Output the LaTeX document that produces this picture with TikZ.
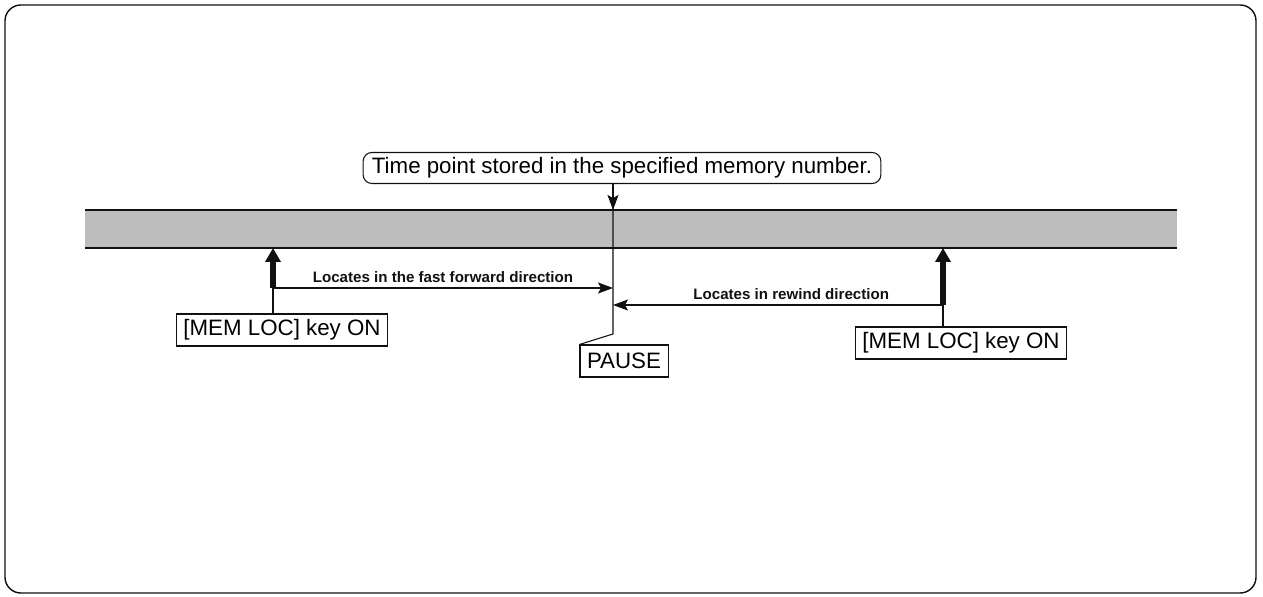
\documentclass[tikz,border=0pt]{standalone}
\usepackage{fontspec}
\setmainfont{Liberation Sans}
\usepackage{tikz}
\usetikzlibrary{calc,arrows.meta,positioning}
\definecolor{inkx}{HTML}{111111}
\definecolor{tapex}{HTML}{BDBDBD}
\tikzset{
  ar/.style={-{Stealth[length=3mm,width=2.2mm,inset=0.6mm]},semithick,inkx},
  big/.style={-{Triangle[length=2.8mm,width=3mm]},line width=3pt,inkx},
  note/.style={draw=inkx,semithick,rounded corners=5pt,font=\fontsize{12.7}{14}\selectfont,inner xsep=5pt,inner ysep=1pt,minimum height=0.62cm},
  keybox/.style={draw=inkx,semithick,font=\fontsize{12.7}{14}\selectfont,inner xsep=4pt,inner ysep=1pt,minimum height=0.64cm},
  lbl/.style={font=\bfseries\fontsize{8.6}{10}\selectfont,inner sep=3pt},
  frame/.style={thick,inkx,rounded corners=9pt}
}
\begin{document}
\begin{tikzpicture}[x=0.02cm,y=-0.02cm]
\useasboundingbox (0,0) rectangle (1263,597);
\draw[frame] (5,5) rectangle (1256,593);
% tape
\fill[tapex] (85,210) rectangle (1177,248);
\coordinate (tapetop) at (85,210);
\coordinate (tapebot) at (85,248);
\draw[semithick,inkx] (tapetop) -- (1177,210);
\draw[semithick,inkx] (tapebot) -- (1177,248);
% labels
\node[note] (memo) at (622,168) {Time point stored in the specified memory number.};
\node[keybox] (pause) at (624,361) {PAUSE};
\node[keybox] (lkey) at (282,330) {[MEM LOC] key ON};
\node[keybox] (rkey) at (961,343) {[MEM LOC] key ON};
\coordinate (stop) at (613,334);
\coordinate (lstart) at (273,288);
\coordinate (rstart) at (943,305);
% memory point
\draw[semithick,inkx] (memo.south -| stop) -- (stop) -- (pause.north west);
\draw[ar] (memo.south -| stop) -- (stop |- tapetop);
% locate
\draw[big] (lstart) -- (lstart |- tapebot);
\draw[semithick,inkx] (lstart) -- (lstart |- lkey.north);
\draw[ar] (lstart) -- (lstart -| stop) node[midway,above,lbl]{Locates in the fast forward direction};
\draw[big] (rstart) -- (rstart |- tapebot);
\draw[semithick,inkx] (rstart) -- (rstart |- rkey.north);
\draw[ar] (rstart) -- (rstart -| stop) node[pos=0.46,above,lbl]{Locates in rewind direction};
\end{tikzpicture}
\end{document}
